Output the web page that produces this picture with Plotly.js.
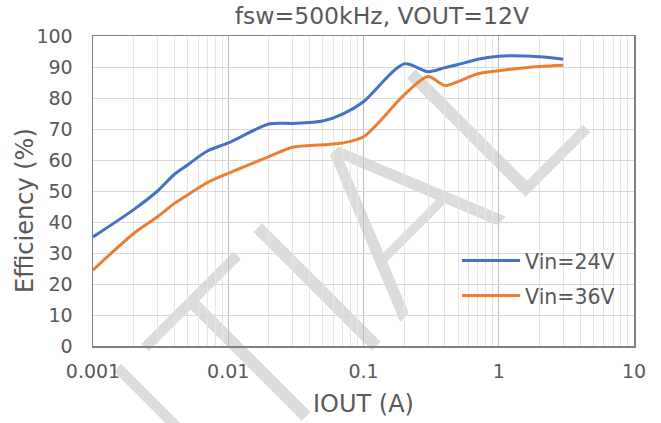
<!DOCTYPE html>
<html>
<head>
<meta charset="utf-8">
<script src="https://cdn.plot.ly/plotly-3.0.1.min.js"></script>
<style>
  html, body { margin: 0; padding: 0; background: #ffffff; }
  #chart { width: 661px; height: 423px; }
</style>
</head>
<body>
<div id="chart"></div>
<script>
// ---- data ----
const chartTitle = 'fsw=500kHz, VOUT=12V';
const xTitle = 'IOUT (A)';
const yTitle = 'Efficiency (%)';
const seriesNames = ['Vin=24V', 'Vin=36V'];
const currents = [0.001, 0.002, 0.003, 0.004, 0.005, 0.007, 0.01, 0.02, 0.03, 0.05, 0.07, 0.1, 0.2, 0.3, 0.4, 0.5, 0.7, 1, 2, 3];
const eff24 = [35.2, 44.0, 50.0, 55.4, 58.4, 62.9, 65.5, 71.6, 71.8, 72.6, 74.8, 78.8, 91.0, 88.5, 89.8, 90.8, 92.5, 93.5, 93.3, 92.5];
const eff36 = [24.5, 36.3, 41.7, 46.0, 48.7, 52.7, 55.7, 61.1, 64.1, 64.9, 65.5, 67.5, 81.0, 86.9, 84.0, 85.3, 87.8, 88.8, 90.2, 90.6];
const xTickVals = [0.001, 0.01, 0.1, 1, 10];
const xTickText = ['0.001', '0.01', '0.1', '1', '10'];
const yTickVals = [0, 10, 20, 30, 40, 50, 60, 70, 80, 90, 100];
const watermark = 'CONFIDENTIAL';

const textColor = '#595959';
const fontFam = 'DejaVu Sans, sans-serif';

const traces = [
  { x: currents, y: eff24, name: seriesNames[0], type: 'scatter', mode: 'lines',
    line: { color: '#4472C4', width: 3, shape: 'spline', smoothing: 0.8 }, legend: 'legend' },
  { x: currents, y: eff36, name: seriesNames[1], type: 'scatter', mode: 'lines',
    line: { color: '#ED7D31', width: 3, shape: 'spline', smoothing: 0.8 }, legend: 'legend2' }
];

const legendCommon = {
  xanchor: 'left', yanchor: 'middle', bgcolor: 'rgba(0,0,0,0)', borderwidth: 0,
  font: { family: fontFam, size: 20.5, color: textColor }, itemwidth: 58,
  xref: 'paper', yref: 'paper'
};

const layout = {
  width: 661, height: 423,
  margin: { l: 93, r: 27, t: 36, b: 77 },
  paper_bgcolor: '#ffffff',
  plot_bgcolor: 'rgba(0,0,0,0)',
  font: { family: fontFam, color: textColor },
  title: { text: chartTitle, font: { family: fontFam, size: 23.5, color: textColor },
           xref: 'paper', x: 0.534, xanchor: 'center', yref: 'container', y: 0.962, yanchor: 'middle' },
  xaxis: {
    type: 'log', range: [-3, 1],
    tickvals: xTickVals, ticktext: xTickText,
    tickfont: { family: fontFam, size: 19, color: textColor },
    ticks: 'outside', ticklen: 8, tickcolor: 'rgba(0,0,0,0)',
    showgrid: true, gridcolor: '#bfbfbf', gridwidth: 1,
    minor: { showgrid: true, gridcolor: '#e6e6e6', gridwidth: 1, dtick: 'D1', ticks: '' },
    showline: true, linecolor: '#808080', linewidth: 1.5, mirror: true,
    zeroline: false, fixedrange: true,
    title: { text: xTitle, font: { family: fontFam, size: 24, color: textColor }, standoff: 14 }
  },
  yaxis: {
    range: [0, 100], tickvals: yTickVals,
    tickfont: { family: fontFam, size: 19, color: textColor },
    ticks: 'outside', ticklen: 15, tickcolor: 'rgba(0,0,0,0)',
    showgrid: true, gridcolor: '#d9d9d9', gridwidth: 1,
    showline: true, linecolor: '#808080', linewidth: 1.5, mirror: true,
    zeroline: false, fixedrange: true
  },
  showlegend: true,
  legend: Object.assign({}, legendCommon, { x: 0.673, y: 0.275 }),
  legend2: Object.assign({}, legendCommon, { x: 0.673, y: 0.162 }),
  annotations: [
    { text: yTitle, xref: 'paper', yref: 'paper', x: -0.1257, y: 0.4387,
      xanchor: 'center', yanchor: 'middle', textangle: -90, showarrow: false,
      font: { family: fontFam, size: 24, color: textColor } }
  ],
  shapes: [
    { type: 'line', xref: 'paper', yref: 'paper', x0: -0.355, y0: -1.0128, x1: -0.255, y1: -1.0128,
      layer: 'below', line: { color: 'rgba(0,0,0,0)', width: 1 },
      label: { text: watermark, textangle: -45, textposition: 'middle', xanchor: 'center', yanchor: 'middle',
               font: { family: 'Lato, Liberation Sans, sans-serif', weight: 300, size: 237, color: '#dcdcdc' } } }
  ]
};

Plotly.newPlot('chart', traces, layout, { displayModeBar: false, staticPlot: true });
</script>
</body>
</html>
